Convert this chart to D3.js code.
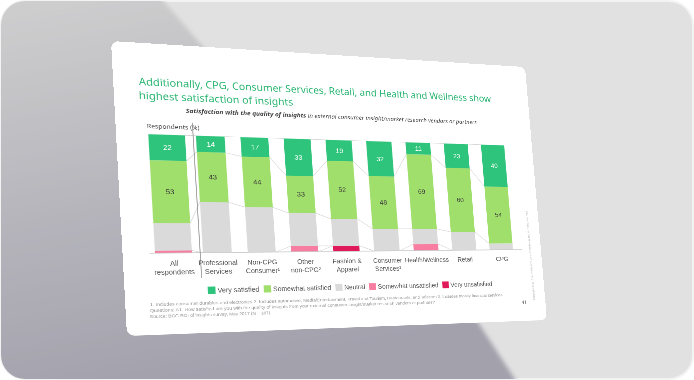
<!DOCTYPE html>
<html>
<head>
<meta charset="utf-8">
<script src="https://cdn.jsdelivr.net/npm/d3@7"></script>
<style>
html, body { margin: 0; padding: 0; width: 694px; height: 380px; overflow: hidden; background: #fff; }
#bg { position: absolute; left: 0; top: 0; }
#slide { position: absolute; left: 0; top: 0; transform-origin: 0 0; }
</style>
</head>
<body>
<svg id="bg" width="694" height="380"></svg>
<div id="slide"></div>
<script>
// chart data
var categories = ["All respondents", "Professional Services", "Non-CPG Consumer", "Other non-CPG", "Fashion & Apparel", "Consumer Services", "Health/Wellness", "Retail", "CPG"];
var categoryLines = [["All", "respondents"], ["Professional", "Services"], ["Non-CPG", "Consumer\u00b9"], ["Other", "non-CPG\u00b2"], ["Fashion &", "Apparel"], ["Consumer", "Services\u00b3"], ["Health/Wellness"], ["Retail"], ["CPG"]];
var verySatisfied       = [22, 14, 17, 33, 19, 32, 11, 23, 40];
var somewhatSatisfied   = [53, 43, 44, 33, 52, 48, 69, 60, 54];
var neutral             = [23, 43, 39, 29, 24, 20, 14, 17, 6];
var somewhatUnsatisfied = [2, 0, 0, 5, 0, 0, 6, 0, 0];
var veryUnsatisfied     = [0, 0, 0, 0, 5, 0, 0, 0, 0];
var seriesNames = ["Very satisfied", "Somewhat satisfied", "Neutral", "Somewhat unsatisfied", "Very unsatisfied"];
var titleLines = ["Additionally, CPG, Consumer Services, Retail, and Health and Wellness show", "highest satisfaction of insights"];
var footnotes = [
  "1. Includes consumer durables and electronics 2. Includes automotive, Media/Entertainment, Travel and Tourism, Restaurants, and Telecom 3. Includes mostly financial services",
  "Questions: A1: How satisfied are you with the quality of insights from your external consumer insight/market research vendors or partners?",
  "Source: BCG ROI of insights survey, May 2017 (N = 187)"
];

var colors = {
  verySatisfied: "#2fc47b",
  somewhatSatisfied: "#a1df6c",
  neutral: "#dadada",
  somewhatUnsatisfied: "#f77ea0",
  veryUnsatisfied: "#e0195a"
};

// ---------- background ----------
var bg = d3.select("#bg");
var defs = bg.append("defs");
defs.append("clipPath").attr("id", "frame")
  .append("rect").attr("x", 1).attr("y", 1).attr("width", 692).attr("height", 378).attr("rx", 24);
var grad = defs.append("linearGradient").attr("id", "shade")
  .attr("x1", 0).attr("y1", 0).attr("x2", 0.25).attr("y2", 1);
grad.append("stop").attr("offset", "0%").attr("stop-color", "#d0d0d0");
grad.append("stop").attr("offset", "55%").attr("stop-color", "#b6b5bc");
grad.append("stop").attr("offset", "100%").attr("stop-color", "#a3a1ac");
defs.append("filter").attr("id", "soft").attr("x", "-10%").attr("y", "-10%").attr("width", "120%").attr("height", "120%")
  .append("feGaussianBlur").attr("stdDeviation", 2);

bg.append("rect").attr("x", 1).attr("y", 1).attr("width", 692).attr("height", 378).attr("rx", 24)
  .attr("fill", "#e1e1e1").attr("stroke", "#f3f3f3").attr("stroke-width", 2);
bg.append("g").attr("clip-path", "url(#frame)")
  .append("path")
  .attr("d", "M-10,-10 L154,-10 L210,55 L470,310 L522,390 L-10,390 Z")
  .attr("fill", "url(#shade)")
  .attr("filter", "url(#soft)");

// ---------- projective mapping for the tilted slide ----------
function solveH(src, dst) {
  var A = [], b = [], n = 8;
  for (var i = 0; i < 4; i++) {
    var x = src[i][0], y = src[i][1], u = dst[i][0], v = dst[i][1];
    A.push([x, y, 1, 0, 0, 0, -u * x, -u * y]); b.push(u);
    A.push([0, 0, 0, x, y, 1, -v * x, -v * y]); b.push(v);
  }
  for (var c = 0; c < n; c++) {
    var p = c;
    for (var r = c + 1; r < n; r++) if (Math.abs(A[r][c]) > Math.abs(A[p][c])) p = r;
    var t = A[c]; A[c] = A[p]; A[p] = t;
    var tb = b[c]; b[c] = b[p]; b[p] = tb;
    for (r = 0; r < n; r++) {
      if (r === c) continue;
      var f = A[r][c] / A[c][c];
      for (var k = c; k < n; k++) A[r][k] -= f * A[c][k];
      b[r] -= f * b[c];
    }
  }
  return b.map(function(v, i) { return v / A[i][i]; });
}
function applyH(h, x, y) {
  var w = h[6] * x + h[7] * y + 1;
  return [(h[0] * x + h[1] * y + h[2]) / w, (h[3] * x + h[4] * y + h[5]) / w];
}

var W = 900, H = 600;
var screenCorners = [[111, 41], [525, 67], [547, 320], [127, 336]];
var flatCorners = [[0, 0], [W, 0], [W, H], [0, H]];
var hF = solveH(flatCorners, screenCorners);
var hI = solveH(screenCorners, flatCorners);
// screen point -> slide point
var P = function(x, y) { return applyH(hI, x, y); };

d3.select("#slide").style("transform",
  "matrix3d(" + [hF[0], hF[3], 0, hF[6], hF[1], hF[4], 0, hF[7], 0, 0, 1, 0, hF[2], hF[5], 0, 1].join(",") + ")");

var svg = d3.select("#slide").append("svg").attr("width", W).attr("height", H);
svg.append("rect").attr("width", W).attr("height", H).attr("rx", 15).attr("fill", "#fff");

var FONT = "'Noto Sans', 'Open Sans', sans-serif";
var NARROW = "'Liberation Sans Narrow', 'Liberation Sans', sans-serif";

// scale a text's font size so that it spans the given width
function fitText(t, width, size) {
  t.style("font-size", size + "px");
  var w = t.node().getComputedTextLength();
  t.style("font-size", (size * width / w).toFixed(2) + "px");
  return t;
}

// title
titleLines.forEach(function(line, i) {
  var a = i === 0 ? P(139, 85) : P(139, 99);
  var e = i === 0 ? P(491, 101) : P(293, 102);
  var t = svg.append("text")
    .attr("x", a[0]).attr("y", a[1])
    .style("font-family", FONT).style("fill", "#2cb673")
    .text(line);
  fitText(t, e[0] - a[0], 27);
});

// subtitle
var sa = P(186, 113), se = P(477, 126);
var sub = svg.append("text").attr("x", sa[0]).attr("y", sa[1])
  .style("font-family", FONT).style("font-style", "italic").style("fill", "#444");
sub.append("tspan").style("font-weight", "bold").text("Satisfaction with the quality of insights");
sub.append("tspan").text(" in external consumer insight/market research vendors or partners");
fitText(sub, se[0] - sa[0], 14);

var ra = P(147, 128);
svg.append("text").attr("x", ra[0]).attr("y", ra[1])
  .style("font-family", FONT).style("font-size", "13px").style("fill", "#444")
  .text("Respondents (%)");

// ---------- chart ----------
var baseY = P(174, 253)[1], topY = P(174, 135)[1];
var y = d3.scaleLinear().domain([0, 100]).range([baseY, topY]);

var allX0 = P(155, 253)[0], allX1 = P(192, 253)[0];
var x = d3.scaleBand().domain(categories.slice(1))
  .range([P(203, 253)[0], P(513, 250)[0]])
  .paddingInner(0.36).paddingOuter(0);

function barX(i) { return i === 0 ? allX0 : x(categories[i]); }
function barW(i) { return i === 0 ? allX1 - allX0 : x.bandwidth(); }

var table = categories.map(function(c, i) {
  return {
    category: c,
    veryUnsatisfied: veryUnsatisfied[i],
    somewhatUnsatisfied: somewhatUnsatisfied[i],
    neutral: neutral[i],
    somewhatSatisfied: somewhatSatisfied[i],
    verySatisfied: verySatisfied[i]
  };
});
var keys = ["veryUnsatisfied", "somewhatUnsatisfied", "neutral", "somewhatSatisfied", "verySatisfied"];
var stacked = d3.stack().keys(keys)(table);

// series lines between neighbouring bars
var conn = svg.append("g").attr("stroke", "#d4d4d4").attr("stroke-width", 1.2);
stacked.forEach(function(s) {
  for (var i = 0; i < categories.length - 1; i++) {
    conn.append("line")
      .attr("x1", barX(i) + barW(i)).attr("y1", y(s[i][1]))
      .attr("x2", barX(i + 1)).attr("y2", y(s[i + 1][1]));
  }
});

var layers = svg.append("g").selectAll("g").data(stacked).enter().append("g")
  .attr("fill", function(d) { return colors[d.key]; });
layers.selectAll("rect").data(function(d) { return d; }).enter().append("rect")
  .attr("x", function(d, i) { return barX(i); })
  .attr("width", function(d, i) { return barW(i); })
  .attr("y", function(d) { return y(d[1]); })
  .attr("height", function(d) { return y(d[0]) - y(d[1]); });

// value labels
layers.filter(function(d) { return d.key === "verySatisfied" || d.key === "somewhatSatisfied"; })
  .selectAll("text").data(function(d) { return d.map(function(v) { return { v: v, key: d.key }; }); })
  .enter().append("text")
  .attr("x", function(d, i) { return barX(i) + barW(i) / 2; })
  .attr("y", function(d) { return (y(d.v[0]) + y(d.v[1])) / 2 + 5; })
  .attr("text-anchor", "middle")
  .style("font-family", NARROW).style("font-size", "15px")
  .style("fill", function(d) { return d.key === "verySatisfied" ? "#ffffff" : "#3d3d3d"; })
  .text(function(d) { return d.v[1] - d.v[0]; });

// baseline and separator
svg.append("line")
  .attr("x1", allX0 - 10).attr("x2", P(522, 250)[0])
  .attr("y1", baseY).attr("y2", baseY)
  .attr("stroke", "#c8c8c8").attr("stroke-width", 1.5);
var sepX = P(197, 200)[0];
svg.append("line")
  .attr("x1", sepX).attr("x2", sepX)
  .attr("y1", P(197, 123)[1]).attr("y2", P(197, 278)[1])
  .attr("stroke", "#8a8a8a").attr("stroke-width", 1.5);

// category labels
var lab = svg.append("g").style("font-family", NARROW).style("font-size", "14px").style("fill", "#555");
categoryLines.forEach(function(lines, i) {
  var t = lab.append("text").attr("text-anchor", "middle");
  lines.forEach(function(l, j) {
    t.append("tspan").attr("x", barX(i) + barW(i) / 2).attr("y", baseY + 26 + j * 18).text(l);
  });
});

// legend
var la = P(208, 293);
var leg = svg.append("g").attr("transform", "translate(" + la[0] + "," + la[1] + ")");
var lx = 0;
keys.slice().reverse().forEach(function(k, i) {
  leg.append("rect").attr("x", lx).attr("y", -13).attr("width", 15).attr("height", 15).attr("fill", colors[k]);
  var t = leg.append("text").attr("x", lx + 19).attr("y", 0)
    .style("font-family", NARROW).style("font-size", "14px").style("fill", "#555")
    .text(seriesNames[i]);
  lx += 19 + t.node().getComputedTextLength() + 9;
});

// footnotes
var fe = [P(502, 297), P(435, 303), P(270, 310)];
footnotes.forEach(function(f, i) {
  var a = P(150, 306 + i * 6);
  var t = svg.append("text").attr("x", a[0]).attr("y", a[1])
    .style("font-family", NARROW).style("fill", "#9a9a9a")
    .text(f);
  fitText(t, fe[i][0] - a[0], 11);
});

var pn = P(522, 304);
svg.append("text").attr("x", pn[0]).attr("y", pn[1])
  .style("font-family", FONT).style("font-size", "10px").style("fill", "#666").text("41");

var cp = P(535, 300);
svg.append("text").attr("transform", "translate(" + cp[0] + "," + cp[1] + ") rotate(-90)")
  .style("font-family", FONT).style("font-size", "6px").style("fill", "#aaa")
  .text("Copyright \u00a9 2017 by The Boston Consulting Group, Inc. All rights reserved.");
</script>
</body>
</html>
